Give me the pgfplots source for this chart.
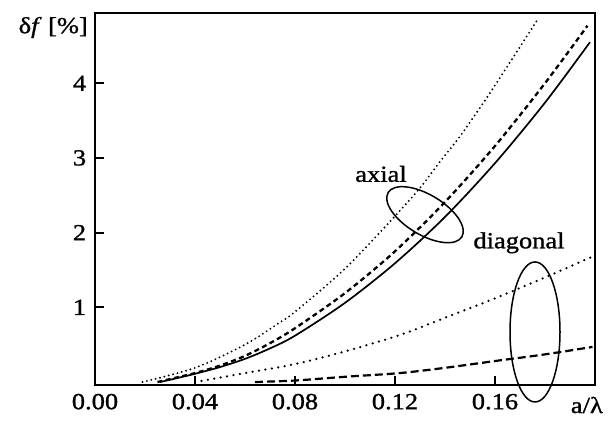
\documentclass[border=0pt]{standalone}
\usepackage{pgfplots}
\pgfplotsset{compat=1.18}
\usepackage{fontspec}
\setmainfont{Liberation Serif}[FakeStretch=1.15, FakeBold=1.2]
\begin{document}
\fontsize{23}{27}\selectfont
\begin{tikzpicture}
\begin{axis}[
  scale only axis, width=500pt, height=372pt,
  xmin=0, xmax=0.2, ymin=-0.04, ymax=4.94,
  clip=false,
  axis line style={line width=2.4pt},
  xtick={0,0.04,0.08,0.12,0.16},
  xticklabels={0.00,0.04,0.08,0.12,0.16},
  ytick={1,2,3,4},
  yticklabels={1,2,3,4},
  xtick pos=bottom, ytick pos=left,
  tick align=inside,
  major tick length=9pt,
  tick style={line width=2pt, black},
  /pgf/number format/assume math mode=true,
  yticklabel style={xshift=-1pt},
  xticklabel style={yshift=-1pt},
]
% axial solid
\addplot[black, line width=1.7pt, smooth] coordinates {
(0.026,0) (0.03,0.03) (0.04,0.11) (0.05,0.20) (0.06,0.31) (0.07,0.45) (0.08,0.62)
(0.10,1.06) (0.12,1.59) (0.14,2.21) (0.16,2.93) (0.18,3.74) (0.198,4.55)};
% axial dashed
\addplot[black, line width=2.3pt, smooth, dash pattern=on 5pt off 3.5pt] coordinates {
(0.025,0) (0.03,0.04) (0.04,0.12) (0.05,0.22) (0.06,0.35) (0.07,0.52) (0.08,0.72)
(0.10,1.19) (0.12,1.75) (0.14,2.41) (0.16,3.16) (0.18,4.00) (0.197,4.77)};
% axial dotted
\addplot[black, line width=2.1pt, smooth, line cap=round, dash pattern=on 0pt off 4.5pt] coordinates {
(0.019,0) (0.04,0.19) (0.06,0.50) (0.074,0.80) (0.08,0.94) (0.101,1.55)
(0.127,2.48) (0.138,2.95) (0.146,3.29) (0.158,3.87) (0.177,4.85)};
% diagonal dotted
\addplot[black, line width=2.5pt, smooth, line cap=round, dash pattern=on 0pt off 6.5pt] coordinates {
(0.040,0) (0.06,0.12) (0.08,0.24) (0.10,0.41) (0.122,0.63) (0.14,0.86)
(0.16,1.12) (0.18,1.40) (0.199,1.68)};
% diagonal dashed
\addplot[black, line width=2.2pt, smooth, dash pattern=on 8pt off 4pt] coordinates {
(0.064,0) (0.08,0.02) (0.10,0.07) (0.122,0.12) (0.14,0.19) (0.162,0.29)
(0.18,0.37) (0.199,0.47)};
% ellipses
\draw[line width=1.5pt] (axis cs:0.132,2.24) ellipse[x radius=43pt, y radius=20pt, rotate=-31];
\draw[line width=1.5pt] (axis cs:0.176,0.67) ellipse[x radius=25pt, y radius=70pt];
% labels
\node[anchor=base] at (axis cs:0.1144,2.68) {axial};
\node[anchor=base] at (axis cs:0.1696,1.79) {diagonal};
\node[anchor=base east, inner sep=0pt] at (axis cs:0,4.67) [xshift=-7pt] {δ\textit{f} [\%]};
\node[anchor=base east, inner sep=0pt] at (axis cs:0.2032,-0.415) {a/λ};
\end{axis}
\path (current axis.south west) ++(-95pt,-38pt) rectangle ++(615pt,423pt);
\end{tikzpicture}
\end{document}
